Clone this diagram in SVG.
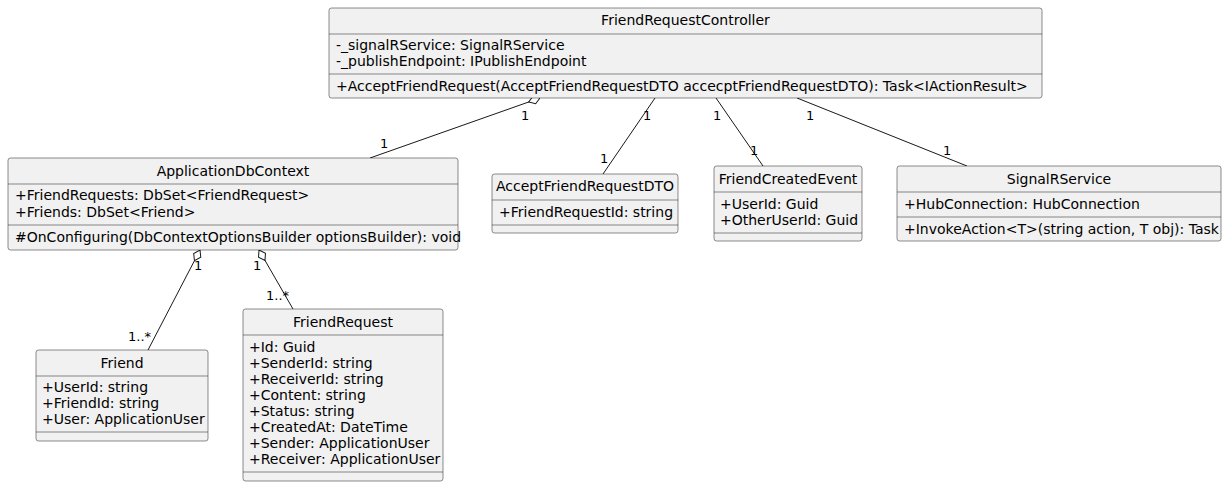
<svg xmlns="http://www.w3.org/2000/svg" width="1227" height="488" viewBox="0 0 1227 488">
<style>
.box{fill:#F1F1F1;stroke:#181818;stroke-width:0.5}
.sep{stroke:#181818;stroke-width:0.5}
.t{font-family:"DejaVu Sans",sans-serif;font-size:14px;fill:#000}
.c{text-anchor:middle}
.lbl{font-family:"DejaVu Sans",sans-serif;font-size:13px;fill:#000}
.ln{stroke:#181818;stroke-width:1;fill:none}
</style>
<defs>
<marker id="agg" markerUnits="userSpaceOnUse" markerWidth="14" markerHeight="10" refX="0" refY="5" orient="auto" viewBox="0 0 14 10">
<path d="M0,5 L6,1 L12,5 L6,9 Z" fill="#FFFFFF" stroke="#181818" stroke-width="1"/>
</marker>
</defs>
<rect width="1227" height="488" fill="#FFFFFF"/>
<g id="connectors">
<path class="ln" d="M540,98 L370,158" marker-start="url(#agg)"/>
<path class="ln" d="M655,98 L603,174"/>
<path class="ln" d="M716,98 L763,166"/>
<path class="ln" d="M797,98 L967,166"/>
<path class="ln" d="M200,250 L148,350" marker-start="url(#agg)"/>
<path class="ln" d="M259,250 L293,309" marker-start="url(#agg)"/>
<text class="lbl" x="521" y="120">1</text>
<text class="lbl" x="380" y="148">1</text>
<text class="lbl" x="643" y="120">1</text>
<text class="lbl" x="600" y="163">1</text>
<text class="lbl" x="713" y="120">1</text>
<text class="lbl" x="750" y="155">1</text>
<text class="lbl" x="806" y="120">1</text>
<text class="lbl" x="943" y="155">1</text>
<text class="lbl" x="194" y="270">1</text>
<text class="lbl" x="128" y="341">1..*</text>
<text class="lbl" x="253" y="270">1</text>
<text class="lbl" x="266" y="300">1..*</text>
</g>
<g id="FriendRequestController">
<rect class="box" x="329" y="8" width="713" height="90" rx="2.5"/>
<text class="t c" x="685.5" y="25">FriendRequestController</text>
<line class="sep" x1="329" y1="34" x2="1042" y2="34"/>
<text class="t" x="336" y="50">-_signalRService: SignalRService</text>
<text class="t" x="336" y="66">-_publishEndpoint: IPublishEndpoint</text>
<line class="sep" x1="329" y1="74" x2="1042" y2="74"/>
<text class="t" x="336" y="91">+AcceptFriendRequest(AcceptFriendRequestDTO accecptFriendRequestDTO): Task&lt;IActionResult&gt;</text>
</g>
<g id="ApplicationDbContext">
<rect class="box" x="8" y="158" width="450" height="92" rx="2.5"/>
<text class="t c" x="233" y="176">ApplicationDbContext</text>
<line class="sep" x1="8" y1="184" x2="458" y2="184"/>
<text class="t" x="15" y="200">+FriendRequests: DbSet&lt;FriendRequest&gt;</text>
<text class="t" x="15" y="217">+Friends: DbSet&lt;Friend&gt;</text>
<line class="sep" x1="8" y1="225" x2="458" y2="225"/>
<text class="t" x="15" y="242">#OnConfiguring(DbContextOptionsBuilder optionsBuilder): void</text>
</g>
<g id="AcceptFriendRequestDTO">
<rect class="box" x="492" y="174" width="186" height="59" rx="2.5"/>
<text class="t c" x="585" y="191">AcceptFriendRequestDTO</text>
<line class="sep" x1="492" y1="200" x2="678" y2="200"/>
<text class="t" x="499" y="217">+FriendRequestId: string</text>
<line class="sep" x1="492" y1="225" x2="678" y2="225"/>
</g>
<g id="FriendCreatedEvent">
<rect class="box" x="714" y="166" width="148" height="75" rx="2.5"/>
<text class="t c" x="788" y="184">FriendCreatedEvent</text>
<line class="sep" x1="714" y1="192" x2="862" y2="192"/>
<text class="t" x="720" y="209">+UserId: Guid</text>
<text class="t" x="720" y="225">+OtherUserId: Guid</text>
<line class="sep" x1="714" y1="233" x2="862" y2="233"/>
</g>
<g id="SignalRService">
<rect class="box" x="897" y="166" width="324" height="75" rx="2.5"/>
<text class="t c" x="1059" y="184">SignalRService</text>
<line class="sep" x1="897" y1="192" x2="1221" y2="192"/>
<text class="t" x="904" y="209">+HubConnection: HubConnection</text>
<line class="sep" x1="897" y1="217" x2="1221" y2="217"/>
<text class="t" x="904" y="234">+InvokeAction&lt;T&gt;(string action, T obj): Task</text>
</g>
<g id="Friend">
<rect class="box" x="36" y="350" width="172" height="91" rx="2.5"/>
<text class="t c" x="122" y="368">Friend</text>
<line class="sep" x1="36" y1="376" x2="208" y2="376"/>
<text class="t" x="42" y="392">+UserId: string</text>
<text class="t" x="42" y="408">+FriendId: string</text>
<text class="t" x="42" y="424">+User: ApplicationUser</text>
<line class="sep" x1="36" y1="432" x2="208" y2="432"/>
</g>
<g id="FriendRequest">
<rect class="box" x="243" y="309" width="200" height="172" rx="2.5"/>
<text class="t c" x="343" y="327">FriendRequest</text>
<line class="sep" x1="243" y1="335" x2="443" y2="335"/>
<text class="t" x="249" y="352">+Id: Guid</text>
<text class="t" x="249" y="368">+SenderId: string</text>
<text class="t" x="249" y="384">+ReceiverId: string</text>
<text class="t" x="249" y="400">+Content: string</text>
<text class="t" x="249" y="416">+Status: string</text>
<text class="t" x="249" y="432">+CreatedAt: DateTime</text>
<text class="t" x="249" y="448">+Sender: ApplicationUser</text>
<text class="t" x="249" y="464">+Receiver: ApplicationUser</text>
<line class="sep" x1="243" y1="472" x2="443" y2="472"/>
</g>
</svg>
